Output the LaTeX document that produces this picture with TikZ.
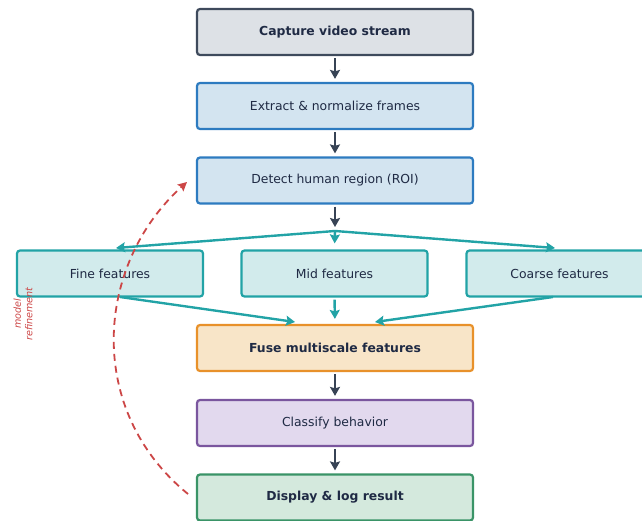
\documentclass[tikz,border=0pt]{standalone}
\usepackage{fontspec}
\setmainfont{DejaVu Sans}
\usetikzlibrary{arrows.meta}
\definecolor{txt}{HTML}{1F2A44}
\definecolor{darkarr}{HTML}{374355}
\definecolor{capfill}{HTML}{DDE1E6}
\definecolor{capdraw}{HTML}{3E4A5C}
\definecolor{bluefill}{HTML}{D3E4F0}
\definecolor{bluedraw}{HTML}{2D7BC0}
\definecolor{tealfill}{HTML}{D2EBEC}
\definecolor{tealdraw}{HTML}{22A3A6}
\definecolor{orgfill}{HTML}{F8E5C8}
\definecolor{orgdraw}{HTML}{E8912A}
\definecolor{purfill}{HTML}{E2D9EE}
\definecolor{purdraw}{HTML}{7A569E}
\definecolor{grnfill}{HTML}{D4E9DD}
\definecolor{grndraw}{HTML}{3A9467}
\definecolor{redd}{HTML}{CC4646}
\tikzset{
  box/.style={draw, line width=2.2pt, rounded corners=3pt, minimum height=46pt, inner sep=0pt, text=txt, font=\fontsize{12.4}{15}\selectfont},
  mainbox/.style={box, minimum width=276pt},
  featbox/.style={box, minimum width=186pt, fill=tealfill, draw=tealdraw},
  darrow/.style={draw=darkarr, line width=2.4pt, -{Stealth[length=9pt,width=10pt,inset=1.5pt]}},
  tarrow/.style={draw=tealdraw, line width=2.4pt, -{Stealth[length=9pt,width=10pt,inset=1.5pt]}},
}
\begin{document}
\begin{tikzpicture}[x=1pt,y=-1pt]
\useasboundingbox (0,0) rectangle (642,521);
\begin{scope}
\clip (0,0) rectangle (642,521);
\node[mainbox, fill=capfill, draw=capdraw, font=\fontsize{12.4}{15}\selectfont\bfseries] (cap) at (335,32) {Capture video stream};
\node[mainbox, fill=bluefill, draw=bluedraw] (ext) at (335,106) {Extract \& normalize frames};
\node[mainbox, fill=bluefill, draw=bluedraw] (det) at (335,180.5) {Detect human region (ROI)};
\node[featbox] (fine) at (110,273.5) {Fine features};
\node[featbox] (mid) at (334.5,273.5) {Mid features};
\node[featbox] (coarse) at (559.5,273.5) {Coarse features};
\node[mainbox, fill=orgfill, draw=orgdraw, font=\fontsize{12.4}{15}\selectfont\bfseries] (fuse) at (335,348) {Fuse multiscale features};
\node[mainbox, fill=purfill, draw=purdraw] (cls) at (335,423) {Classify behavior};
\node[mainbox, fill=grnfill, draw=grndraw, font=\fontsize{12.4}{15}\selectfont\bfseries] (disp) at (335,497.5) {Display \& log result};

\draw[darrow, shorten >=3pt, shorten <=2pt] (cap.south) -- (ext.north);
\draw[darrow, shorten >=3pt, shorten <=2pt] (ext.south) -- (det.north);
\draw[darrow, shorten >=3pt, shorten <=2pt] (fuse.south) -- (cls.north);
\draw[darrow, shorten >=3pt, shorten <=2pt] (cls.south) -- (disp.north);

\coordinate (jd) at (335,227);
\coordinate (j) at (335,231);
\draw[darrow, shorten <=2pt] (det.south) -- (jd);
\coordinate (fineIn) at (116,248);
\coordinate (coarseIn) at (555,248);
\draw[tarrow] (j) -- (fineIn);
\draw[tarrow] (j) -- (coarseIn);
\draw[tarrow, shorten >=6pt] (j) -- (mid.north);

\coordinate (fineOut) at (120,297);
\coordinate (coarseOut) at (553,297);
\coordinate (fuseL) at (295,322);
\coordinate (fuseR) at (375,322);
\draw[tarrow] (fineOut) -- (fuseL);
\draw[tarrow] (coarseOut) -- (fuseR);
\draw[tarrow, shorten >=5pt, shorten <=2pt] (mid.south) -- (fuse.north);

\coordinate (fbS) at (188,494);
\coordinate (fbE) at (187,182);
\draw[draw=redd, line width=1.8pt, dash pattern=on 7pt off 5pt, -{Stealth[length=9pt,width=9pt,inset=1.5pt]}]
  (fbS) .. controls (85,410) and (95,265) .. (fbE);
\node[rotate=90, text=redd, font=\fontsize{9.6}{11.5}\selectfont\itshape, align=center, inner sep=0pt] (lbl) at (23,314) {model\\refinement};
\end{scope}
\end{tikzpicture}
\end{document}
